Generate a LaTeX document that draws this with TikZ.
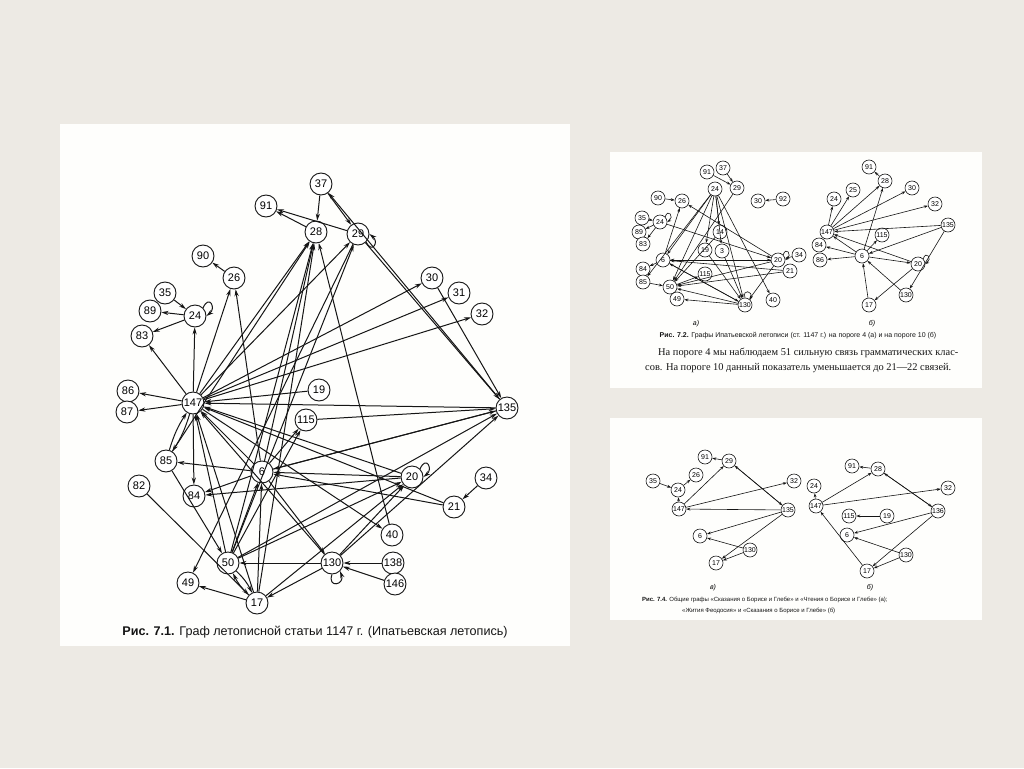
\documentclass[tikz,border=0pt]{standalone}
\usepackage{fontspec}
\setmainfont{Liberation Sans}
\newfontfamily\serifru{Liberation Serif}
\usetikzlibrary{arrows.meta}

\definecolor{slide}{HTML}{EDEAE4}
\definecolor{paper}{HTML}{FEFEFC}
\definecolor{ink}{HTML}{151515}

\begin{document}
\begin{tikzpicture}[
      x=1pt, y=-1pt,
      panel/.style = {fill=paper},
      bn/.style    = {circle, draw=ink, line width=0.9pt, fill=white,
                      minimum size=22pt, inner sep=0pt,
                      font=\fontsize{11}{11}\selectfont},
      sn/.style    = {circle, draw=ink, line width=0.6pt, fill=white,
                      minimum size=14pt, inner sep=0pt,
                      font=\fontsize{7}{7}\selectfont},
      arr/.style   = {-{Stealth[length=7pt,width=4.2pt]}, line width=1pt, draw=ink},
      sarr/.style  = {-{Stealth[length=4pt,width=2.8pt]}, line width=0.6pt, draw=ink},
      sub/.style   = {font=\fontsize{7}{7}\selectfont\itshape},
      captxt/.style = {text=ink, inner sep=0pt},
    ]
    % slide and the three scans
    \fill[slide] (0,0) rectangle (1024,768);
    \fill[panel] (60,124) rectangle (570,646);
    \fill[panel] (610,152) rectangle (982,388);
    \fill[panel] (610,418) rectangle (982,620);

    % ---- Fig. 7.1 ----
    \foreach \n/\x/\y in {37/321/184, 91/266/206, 28/316/232, 29/358/234,
        90/203/256, 26/234/278, 35/165/293, 89/150/311, 24/195/316,
        83/142/336, 30/432/278, 31/459/293, 32/482/314, 86/128/391,
        87/127/412, 147/193/403, 19/319/390, 115/306/420, 135/507/408,
        85/166/461, 82/139/486, 84/194/496, 6/262/472, 20/412/477,
        34/486/478, 21/454/507, 40/392/535, 50/228/563, 49/188/583,
        130/332/563, 138/393/563, 146/395/584, 17/257/603}
      \node[bn] (g\n) at (\x,\y) {\n};

    \foreach \s/\t in {37/28, 37/29, 28/91, 29/91, 135/37, 29/135, 30/135,
        26/90, 35/24, 24/89, 24/83, 147/24, 147/26, 147/83, 147/86, 147/87,
        147/28, 6/28, 50/28, 17/28, 85/28, 40/28, 147/29, 50/29,
        147/30, 147/31, 147/32, 135/147, 115/135, 6/135, 50/135, 130/135,
        19/147, 20/147, 21/147, 50/147, 17/147, 6/147, 130/147,
        147/84, 147/40, 29/49, 17/49, 82/17, 85/50,
        6/85, 6/84, 20/84, 20/6, 21/6, 135/6, 34/21, 138/130, 146/130,
        130/50, 130/17, 130/20, 50/20, 50/6, 50/115, 17/6, 17/20,
        6/115, 6/26, 6/130}
      \draw[arr] (g\s) -- (g\t);
    \draw[arr] (g147) to[bend left=8] (g85);
    \draw[arr] (g85) to[bend left=8] (g147);
    \draw[arr] (g50) to[bend left=10] (g17);
    \draw[arr] (g17) to[bend left=10] (g50);

    % self loops
    \draw[arr] (g24.north east) .. controls +(6,-14) and +(10,-8) .. (g24.east);
    \draw[arr] (g29.south east) .. controls +(6,12) and +(10,8) .. (g29.east);
    \draw[arr] (g20.north east) .. controls +(6,-14) and +(10,-8) .. (g20.east);
    \draw[arr] (g130.south) .. controls +(-5,14) and +(5,14) .. (g130.south east);

    \node[captxt, font=\fontsize{12.6}{12.6}\selectfont] (cap71) at (315,632)
      {\textbf{Рис. 7.1.} Граф летописной статьи 1147 г. (Ипатьевская летопись)};

    % ---- Fig. 7.2 a ----
    \foreach \n/\l/\x/\y in {91/91/707/172, 37/37/723/168, 24/24/715/189,
        29/29/737/188, 90/90/658/198, 26/26/682/201, 30/30/758/201,
        92/92/783/199, 35/35/642/218, 24b/24/660/222, 89/89/639/232,
        83/83/643/244, 14/14/720/232, 19/19/705/250, 3/3/722/251,
        6/6/663/260, 84/84/643/269, 20/20/778/260, 34/34/799/255,
        21/21/790/271, 115/115/705/274, 85/85/643/282, 50/50/670/287,
        49/49/677/299, 130/130/745/305, 40/40/773/300}
      \node[sn] (a\n) at (\x,\y) {\l};

    \foreach \s/\t in {37/29, 91/29, 90/26, 92/30, 35/24b, 24b/89, 24b/83,
        24/6, 24/50, 24/19, 24/14, 24/3, 24/130, 24/40, 24/85, 29/50,
        20/26, 24b/20, 6/20, 20/6, 34/20, 21/6, 6/84, 6/26, 85/50,
        50/115, 130/6, 130/50, 130/49, 20/50, 20/130, 19/130, 3/130,
        6/130, 21/50, 14/50}
      \draw[sarr] (a\s) -- (a\t);
    \draw[sarr] (a24b.north east) .. controls +(3,-9) and +(7,-5) .. (a24b.east);
    \draw[sarr] (a20.north east) .. controls +(3,-9) and +(7,-5) .. (a20.east);
    \draw[sarr] (a130.north) .. controls +(-3,-9) and +(3,-9) .. (a130.north east);
    \node[sub] (suba) at (696,324) {а)};

    % ---- Fig. 7.2 b ----
    \foreach \n/\x/\y in {91/869/167, 28/885/181, 25/853/190, 30/912/188,
        24/834/199, 32/935/204, 135/948/225, 147/827/232, 115/882/235,
        84/819/245, 6/862/256, 86/820/260, 20/918/264, 130/906/295,
        17/869/305}
      \node[sn] (b\n) at (\x,\y) {\n};

    \foreach \s/\t in {28/91, 147/28, 147/24, 147/25, 147/30, 147/32,
        135/147, 135/6, 135/130, 6/28, 6/115, 6/147, 6/84, 6/86, 6/20,
        20/147, 20/17, 130/6, 17/6}
      \draw[sarr] (b\s) -- (b\t);
    \draw[sarr] (b20.north east) .. controls +(3,-9) and +(7,-5) .. (b20.east);
    \node[sub] (subb) at (872,324) {б)};

    \node[captxt, font=\fontsize{7}{7}\selectfont] (cap72) at (798,336)
      {\textbf{Рис. 7.2.} Графы Ипатьевской летописи (ст. 1147 г.) на пороге 4 (а) и на пороге 10 (б)};
    \node[captxt, font=\serifru\fontsize{10.4}{14.5}\selectfont, align=left,
          anchor=north west] (para) at (645,348)
      {\hspace*{13pt}На пороге 4 мы наблюдаем 51 сильную связь грамматических клас-\\
       сов. На пороге 10 данный показатель уменьшается до 21—22 связей.};

    % ---- Fig. 7.4 v ----
    \foreach \n/\x/\y in {91/705/457, 29/729/461, 26/696/475, 35/653/481,
        24/678/490, 32/794/481, 147/679/509, 135/788/510, 6/700/536,
        130/750/550, 17/716/563}
      \node[sn] (c\n) at (\x,\y) {\n};

    \foreach \s/\t in {29/91, 147/29, 24/26, 35/24, 147/24, 147/32,
        135/147, 29/135, 135/29, 135/6, 135/17, 130/6, 130/17}
      \draw[sarr] (c\s) -- (c\t);
    \node[sub] (subc) at (713,588) {в)};

    % ---- Fig. 7.4 b ----
    \foreach \n/\x/\y in {91/852/466, 28/878/469, 24/814/486, 32/948/488,
        147/816/506, 136/938/511, 115/849/516, 19/887/516, 6/847/535,
        130/906/555, 17/867/571}
      \node[sn] (d\n) at (\x,\y) {\n};

    \foreach \s/\t in {28/91, 147/28, 147/24, 147/32, 28/136, 136/28,
        19/115, 136/6, 136/17, 130/6, 130/17, 17/147}
      \draw[sarr] (d\s) -- (d\t);
    \node[sub] (subd) at (870,588) {б)};

    \node[captxt, font=\fontsize{6}{6}\selectfont, anchor=west] (cap74a) at (642,600)
      {\textbf{Рис. 7.4.} Общие графы «Сказания о Борисе и Глебе» и «Чтения о Борисе и Глебе» (а);};
    \node[captxt, font=\fontsize{6}{6}\selectfont, anchor=west] (cap74b) at (682,611)
      {«Жития Феодосия» и «Сказания о Борисе и Глебе» (б)};
  \end{tikzpicture}
\end{document}
